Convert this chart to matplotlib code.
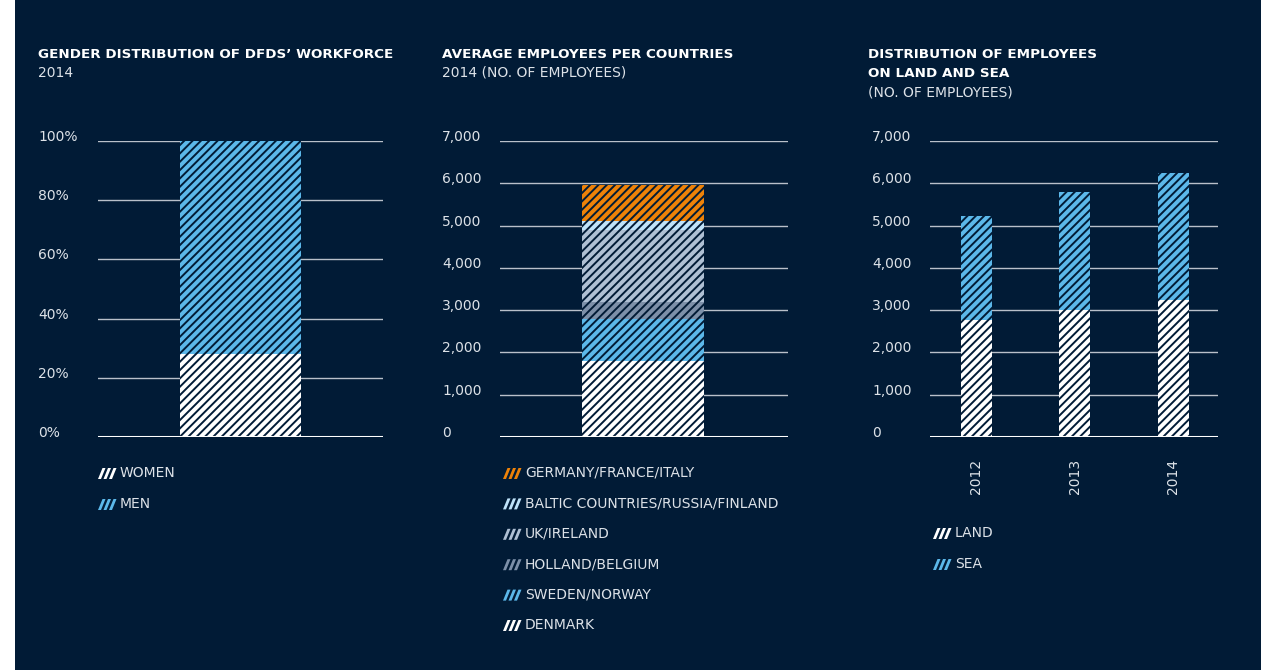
import matplotlib
matplotlib.use("Agg")
import matplotlib.pyplot as plt
from matplotlib.patches import Rectangle, Polygon
from matplotlib.transforms import blended_transform_factory

# ---- data ----
gender_labels = ["WOMEN", "MEN"]
gender_share = [28, 72]
gender_colors = ["#ffffff", "#5cb8ea"]
gender_ticks = [0, 20, 40, 60, 80, 100]

country_labels = ["DENMARK", "SWEDEN/NORWAY", "HOLLAND/BELGIUM", "UK/IRELAND",
                  "BALTIC COUNTRIES/RUSSIA/FINLAND", "GERMANY/FRANCE/ITALY"]
country_values = [1800, 1000, 400, 1700, 200, 850]
country_colors = ["#ffffff", "#5cb8ea", "#7d90a9", "#afc0d4", "#bfe3fa", "#ee8208"]

years = ["2012", "2013", "2014"]
land = [2770, 3000, 3240]
sea = [2450, 2790, 3000]
landsea_labels = ["LAND", "SEA"]
landsea_colors = ["#ffffff", "#5cb8ea"]
emp_ticks = [0, 1000, 2000, 3000, 4000, 5000, 6000, 7000]

NAVY = "#011b36"
GRID = "#b9c0ca"
TXT = "#dde2e8"
FS = 10
HATCH = "////"

plt.rcParams["font.family"] = ["DejaVu Sans"]
plt.rcParams["hatch.linewidth"] = 1.4

W, H = 1261, 670
fig = plt.figure(figsize=(W / 100, H / 100), dpi=100, facecolor=NAVY)
fig.patches.append(Rectangle((0, 0), 15 / W, 1, transform=fig.transFigure,
                             facecolor="white", edgecolor="none", zorder=-5))


def px(x, y):
    return x / W, 1 - y / H


def make_ax(x0, x1, top=141, bottom=437):
    l, b = px(x0, bottom)
    ax = fig.add_axes([l, b, (x1 - x0) / W, (bottom - top) / H])
    ax.set_facecolor(NAVY)
    for s in ax.spines.values():
        s.set_visible(False)
    ax.tick_params(left=False, labelleft=False, bottom=False, labelbottom=False)
    return ax


def yaxis(ax, ticks, fmt, lab_x):
    trans = blended_transform_factory(ax.transAxes, ax.transData)
    x0, x1 = ax.get_position().x0 * W, ax.get_position().x1 * W
    frac = (lab_x - x0) / (x1 - x0)
    for t in ticks:
        ax.axhline(t, color="white" if t == 0 else GRID,
                   lw=2.2 if t == 0 else 1.0, zorder=0 if t else 5)
        ax.text(frac, t, fmt(t), transform=trans, ha="left", va="baseline",
                color=TXT, fontsize=FS, clip_on=False)
    ax.set_ylim(0, ticks[-1])


def title(x, y, lines_bold, lines_reg):
    yy = y
    for s in lines_bold:
        fig.text(x / W, 1 - yy / H, s, color="white", fontsize=9.7,
                 fontweight="bold", va="baseline", ha="left")
        yy += 19
    for s in lines_reg:
        fig.text(x / W, 1 - yy / H, s, color=TXT, fontsize=FS,
                 va="baseline", ha="left")
        yy += 19


def legend(x, y0, labels, colors, step):
    for i, (lab, c) in enumerate(zip(labels, colors)):
        yc = y0 + i * step
        bot, tp = yc + 6, yc - 5
        for k in range(3):
            xs = x + k * 5.5
            pts = [px(xs, bot), px(xs + 3, bot), px(xs + 7.5, tp), px(xs + 4.5, tp)]
            fig.patches.append(Polygon(pts, closed=True, transform=fig.transFigure,
                                       facecolor=c, edgecolor="none"))
        fig.text(*px(x + 22, yc), lab, color=TXT, fontsize=FS,
                 va="center", ha="left")


# ---- panel 1: gender ----
ax1 = make_ax(98, 383)
ax1.set_xlim(-1.17, 1.17)
bottom = 0
for v, c in zip(gender_share, gender_colors):
    ax1.bar(0, v, width=1.0, bottom=bottom, color=c, edgecolor=NAVY,
            linewidth=0, hatch=HATCH, zorder=3)
    bottom += v
yaxis(ax1, gender_ticks, lambda t: f"{t}%", 38)
title(38, 58, ["GENDER DISTRIBUTION OF DFDS\u2019 WORKFORCE"], ["2014"])
legend(98, 473, gender_labels, gender_colors, 31)

# ---- panel 2: countries ----
ax2 = make_ax(500, 788)
ax2.set_xlim(-1.17, 1.19)
bottom = 0
for v, c in zip(country_values, country_colors):
    ax2.bar(0, v, width=1.0, bottom=bottom, color=c, edgecolor=NAVY,
            linewidth=0, hatch=HATCH, zorder=3)
    bottom += v
yaxis(ax2, emp_ticks, lambda t: f"{t:,}", 442)
title(442, 58, ["AVERAGE EMPLOYEES PER COUNTRIES"], ["2014 (NO. OF EMPLOYEES)"])
legend(503, 473, country_labels[::-1], country_colors[::-1], 30.4)

# ---- panel 3: land / sea ----
ax3 = make_ax(930, 1218)
xs = list(range(len(years)))
ax3.set_xlim(-0.472, 2.452)
ax3.bar(xs, land, width=0.315, color=landsea_colors[0], edgecolor=NAVY,
        linewidth=0, hatch=HATCH, zorder=3)
ax3.bar(xs, sea, width=0.315, bottom=land, color=landsea_colors[1], edgecolor=NAVY,
        linewidth=0, hatch=HATCH, zorder=3)
yaxis(ax3, emp_ticks, lambda t: f"{t:,}", 872)
ax3.set_xticks(xs)
ax3.set_xticklabels(years, rotation=90, color=TXT, fontsize=FS)
ax3.tick_params(bottom=False, labelbottom=True, pad=12)
title(868, 58, ["DISTRIBUTION OF EMPLOYEES", "ON LAND AND SEA"], ["(NO. OF EMPLOYEES)"])
legend(933, 533, landsea_labels, landsea_colors, 31)

fig.savefig("out.png", dpi=100, facecolor=NAVY)
